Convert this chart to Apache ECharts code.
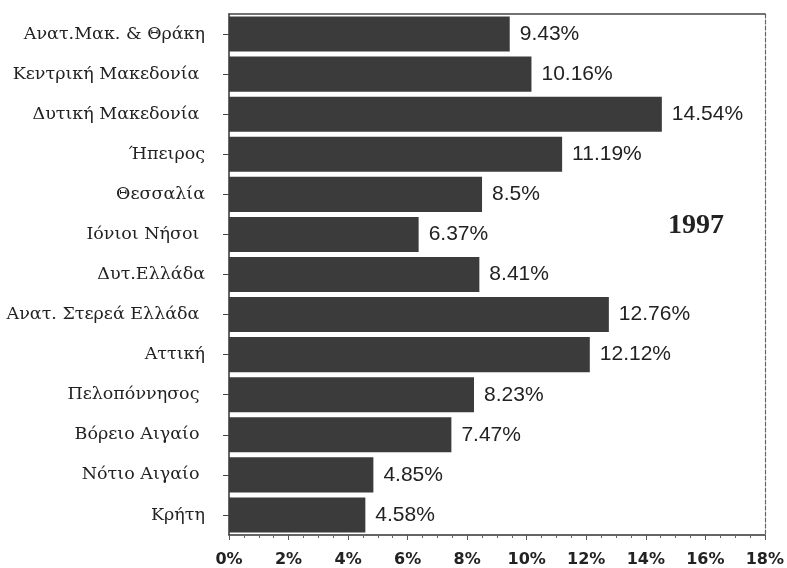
<!DOCTYPE html>
<html>
<head>
<meta charset="utf-8">
<script src="https://cdn.jsdelivr.net/npm/echarts@6/dist/echarts.min.js"></script>
<style>html,body{margin:0;padding:0;background:#fff;}#c{width:787px;height:568px;}</style>
</head>
<body>
<div id="c"></div>
<script>
var categories = ["Ανατ.Μακ. & Θράκη", "Κεντρική Μακεδονία ", "Δυτική Μακεδονία ", "Ήπειρος", "Θεσσαλία", "Ιόνιοι Νήσοι ", "Δυτ.Ελλάδα", "Ανατ. Στερεά Ελλάδα ", "Αττική", "Πελοπόννησος ", "Βόρειο Αιγαίο ", "Νότιο Αιγαίο ", "Κρήτη"];
var values = [9.43, 10.16, 14.54, 11.19, 8.5, 6.37, 8.41, 12.76, 12.12, 8.23, 7.47, 4.85, 4.58];
var yearLabel = "1997";

var chart = echarts.init(document.getElementById('c'));
chart.setOption({
  animation: false,
  backgroundColor: '#ffffff',
  grid: { left: 229, right: 19, top: 14, bottom: 33 },
  xAxis: [{
    type: 'value', min: 0, max: 18, interval: 2,
    axisLine: { show: true, lineStyle: { color: '#333', width: 1.5 } },
    axisTick: { show: true, length: 5, lineStyle: { color: '#555' } },
    minorTick: { show: true, splitNumber: 4, length: 3, lineStyle: { color: '#666' } },
    splitLine: { show: false },
    axisLabel: { formatter: '{value}%', margin: 17, fontFamily: 'DejaVu Sans', fontWeight: 'bold', fontSize: 16, color: '#222' }
  }, {
    type: 'value', min: 0, max: 18, position: 'top',
    axisLine: { show: true, onZero: false, lineStyle: { color: '#444', width: 1.5 } },
    axisTick: { show: false }, axisLabel: { show: false }, splitLine: { show: false }
  }],
  yAxis: [{
    type: 'category', data: categories, inverse: true,
    axisLine: { show: true, lineStyle: { color: '#333', width: 1.5 } },
    axisTick: { show: true, alignWithLabel: true, length: 6, lineStyle: { color: '#444' } },
    axisLabel: { margin: 24, fontFamily: 'DejaVu Serif', fontSize: 17.5, color: '#222' }
  }, {
    type: 'category', data: categories, inverse: true, position: 'right',
    axisLine: { show: true, onZero: false, lineStyle: { color: '#666', width: 1.2, type: [4, 2] } },
    axisTick: { show: false }, axisLabel: { show: false }
  }],
  series: [{
    type: 'bar', data: values, barCategoryGap: '12.5%',
    itemStyle: { color: '#3b3b3b' },
    label: { show: true, position: 'right', distance: 10, formatter: '{c}%', fontFamily: 'Liberation Sans', fontSize: 21, color: '#222' }
  }],
  graphic: [{
    type: 'text', left: 668, top: 212,
    style: { text: yearLabel, fontFamily: 'Liberation Serif', fontWeight: 'bold', fontSize: 28, fill: '#222' }
  }]
});
</script>
</body>
</html>
